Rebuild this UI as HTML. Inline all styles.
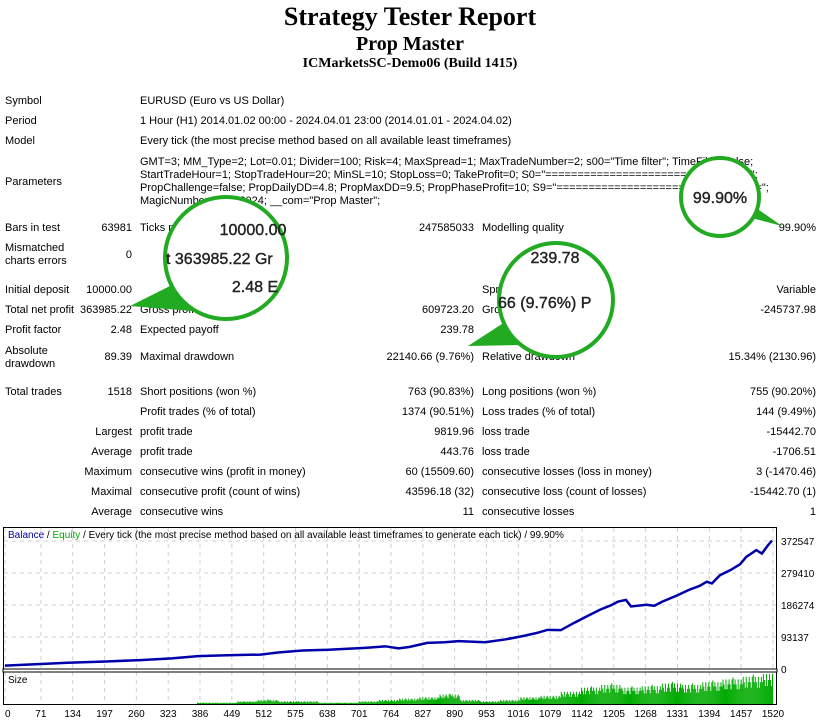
<!DOCTYPE html>
<html><head><meta charset="utf-8">
<style>
body{margin:0;width:820px;height:721px;background:#fff;position:relative;overflow:hidden;font-family:"Liberation Sans",sans-serif;font-size:11px;color:#000}
.t{position:absolute;white-space:nowrap;line-height:13px}
.r{text-align:right}
h1,h2,h3{position:absolute;left:0;width:820px;text-align:center;margin:0;font-family:"Liberation Serif",serif;font-weight:bold;white-space:nowrap}
</style></head><body>
<h1 style="top:2px;font-size:26px">Strategy Tester Report</h1>
<h2 style="top:33px;font-size:20px">Prop Master</h2>
<h3 style="top:56px;font-size:14px">ICMarketsSC-Demo06 (Build 1415)</h3>
<div id="tbl"></div>
<svg id="chart" width="820" height="721" style="position:absolute;left:0;top:0"></svg>
<svg id="mag" width="820" height="721" style="position:absolute;left:0;top:0"></svg>
<script>
const NS="http://www.w3.org/2000/svg";
const rows=[
[101,[[5,"l","Symbol"],[140,"l","EURUSD (Euro vs US Dollar)"]]],
[121,[[5,"l","Period"],[140,"l","1 Hour (H1) 2014.01.02 00:00 - 2024.04.01 23:00 (2014.01.01 - 2024.04.02)"]]],
[141,[[5,"l","Model"],[140,"l","Every tick (the most precise method based on all available least timeframes)"]]],
[182,[[5,"l","Parameters"]]],
[162,[[140,"l","GMT=3; MM_Type=2; Lot=0.01; Divider=100; Risk=4; MaxSpread=1; MaxTradeNumber=2; s00=\"Time filter\"; TimeFilter=false;"]]],
[175,[[140,"l","StartTradeHour=1; StopTradeHour=20; MinSL=10; StopLoss=0; TakeProfit=0; S0=\"================================\";"]]],
[188,[[140,"l","PropChallenge=false; PropDailyDD=4.8; PropMaxDD=9.5; PropPhaseProfit=10; S9=\"================================\";"]]],
[201,[[140,"l","MagicNumber=20032024; __com=\"Prop Master\";"]]],
[228,[[5,"l","Bars in test"],[132,"r","63981"],[140,"l","Ticks modelled"],[474,"r","247585033"],[482,"l","Modelling quality"],[816,"r","99.90%"]]],
[248,[[5,"l","Mismatched"]]],
[261,[[5,"l","charts errors"]]],
[255,[[132,"r","0"]]],
[290,[[5,"l","Initial deposit"],[132,"r","10000.00"],[482,"l","Spread"],[816,"r","Variable"]]],
[310,[[5,"l","Total net profit"],[132,"r","363985.22"],[140,"l","Gross profit"],[474,"r","609723.20"],[482,"l","Gross loss"],[816,"r","-245737.98"]]],
[330,[[5,"l","Profit factor"],[132,"r","2.48"],[140,"l","Expected payoff"],[474,"r","239.78"]]],
[351,[[5,"l","Absolute"]]],
[364,[[5,"l","drawdown"]]],
[357,[[132,"r","89.39"],[140,"l","Maximal drawdown"],[474,"r","22140.66 (9.76%)"],[482,"l","Relative drawdown"],[816,"r","15.34% (2130.96)"]]],
[392,[[5,"l","Total trades"],[132,"r","1518"],[140,"l","Short positions (won %)"],[474,"r","763 (90.83%)"],[482,"l","Long positions (won %)"],[816,"r","755 (90.20%)"]]],
[412,[[140,"l","Profit trades (% of total)"],[474,"r","1374 (90.51%)"],[482,"l","Loss trades (% of total)"],[816,"r","144 (9.49%)"]]],
[432,[[132,"r","Largest"],[140,"l","profit trade"],[474,"r","9819.96"],[482,"l","loss trade"],[816,"r","-15442.70"]]],
[452,[[132,"r","Average"],[140,"l","profit trade"],[474,"r","443.76"],[482,"l","loss trade"],[816,"r","-1706.51"]]],
[472,[[132,"r","Maximum"],[140,"l","consecutive wins (profit in money)"],[474,"r","60 (15509.60)"],[482,"l","consecutive losses (loss in money)"],[816,"r","3 (-1470.46)"]]],
[492,[[132,"r","Maximal"],[140,"l","consecutive profit (count of wins)"],[474,"r","43596.18 (32)"],[482,"l","consecutive loss (count of losses)"],[816,"r","-15442.70 (1)"]]],
[512,[[132,"r","Average"],[140,"l","consecutive wins"],[474,"r","11"],[482,"l","consecutive losses"],[816,"r","1"]]]
];
const tbl=document.getElementById('tbl');
rows.forEach(([y,cells])=>cells.forEach(([x,a,txt])=>{
  const d=document.createElement('div');
  
  
  d.className='t'+(a==='r'?' r':'');
  d.textContent=txt;
  d.style.top=(y-6)+'px';
  if(a==='r'){d.style.right=(820-x)+'px';}else{d.style.left=x+'px';}
  tbl.appendChild(d);
}));

// ---- chart data ----
const balTrades=[0,60,124,200,268,330,382,440,506,540,589,640,712,753,779,800,836,870,898,950,990,1022,1050,1074,1100,1126,1150,1177,1200,1213,1229,1239,1270,1285,1301,1330,1353,1375,1389,1399,1415,1436,1455,1467,1487,1498,1510,1518];
const balValues=[10000,14000,18300,22000,26000,31000,37500,40000,42000,48000,54000,56000,61600,66000,60000,64000,76000,78000,81000,78000,86000,95000,104000,114000,113000,134000,152000,172000,186000,196000,201000,182000,187000,184000,196000,214000,230000,242000,254000,249000,273000,288000,305000,326000,346000,336000,360000,374000];
const yTicks=[0,93137,186274,279410,372547];
const xTicks=[0,71,134,197,260,323,386,449,512,575,638,701,764,827,890,953,1016,1079,1142,1205,1268,1331,1394,1457,1520];
const sizeBucketStart=[380,420,460,500,540,580,620,660,700,740,780,820,860,900,940,980,1020,1060,1100,1140,1180,1220,1260,1300,1340,1380,1420,1460,1500];
const sizeValues=[1,1,2,3,2,2,1,1,2,3,4,5,7,3,2,3,5,6,9,12,14,12,13,15,14,16,18,20,22];
const sizePeaks=[0,0,0,1,0,0,0,0,0,0,0,0,1,0,0,0,0,0,0,1,1,1,1,1,1,1,1,1,1];

const svg=document.getElementById('chart');
function el(tag,at,parent){const e=document.createElementNS(NS,tag);for(const k in at)e.setAttribute(k,at[k]);(parent||svg).appendChild(e);return e;}
const X=t=>5+t*(768/1520);
const Y=v=>669-v*(128/372547);
const SB=704, SY=v=>SB-v*(30/22);

const frame=el('rect',{x:3.5,y:527.5,width:773,height:177,fill:'#fff',stroke:'#000'});


xTicks.forEach(t=>{
  const g=el('line',{x1:X(t),x2:X(t),y1:528,y2:704,stroke:'#d0d0d0','stroke-dasharray':'4,4'});
  
  
  const tx=el('text',{x:X(t),y:717,'text-anchor':t===0?'start':'middle','font-size':10,'font-family':'Liberation Sans'});
  
  
  tx.textContent=t;
});
yTicks.forEach(v=>{
  if(v>0){const g=el('line',{x1:4,x2:776,y1:Y(v),y2:Y(v),stroke:'#d0d0d0','stroke-dasharray':'4,4'});
  
  }
  const tx=el('text',{x:781,y:Y(v)+4,'font-size':10,'font-family':'Liberation Sans'});
  
  
  tx.textContent=v;
});
const sep=el('rect',{x:3,y:669,width:774,height:3,fill:'#fff',stroke:'#000','stroke-width':1});


sizeBucketStart.forEach((s,i)=>{
  for(let k=0;k<40;k+=2){
    const t=s+k; if(t>1518)break;
    const h=sizeValues[i]*(k%6===0?1:(k%4===0?0.6:0.8))*(sizePeaks[i]&&k===20?1.8:1);
    const b=el('rect',{x:X(t),y:SY(h),width:1,height:SB-SY(h),fill:'#00aa00'});
    
    
  }
});
const sl=el('text',{x:8,y:683,'font-size':10,'font-family':'Liberation Sans'});


sl.textContent='Size';
const pl=el('polyline',{points:balTrades.map((t,i)=>X(t)+','+Y(balValues[i])).join(' '),fill:'none',stroke:'#0000aa','stroke-width':2.5});


const hd=el('text',{x:8,y:538,'font-size':10,'font-family':'Liberation Sans'});


hd.innerHTML='<tspan fill="#0000aa">Balance</tspan> / <tspan fill="#00aa00">Equity</tspan> / Every tick (the most precise method based on all available least timeframes to generate each tick) / 99.90%';

const mag=document.getElementById('mag');
function m(tag,at){return el(tag,at,mag);}
function lens(cx,cy,r,tip,base,texts,name){
  const p=m('polygon',{points:`${base[0]},${base[1]} ${base[2]},${base[3]} ${tip[0]},${tip[1]}`,fill:'#22aa22'});
  
  
  const c=m('circle',{cx,cy,r,fill:'#fff',stroke:'#22aa22','stroke-width':4});
  
  
  texts.forEach(([x,y,s,a])=>{
    const t=m('text',{x,y,'font-size':16,'font-family':'Liberation Sans','text-anchor':a||'start','fill':'#222','stroke':'#222','stroke-width':0.4});
    
    
    t.textContent=s;
  });
}
lens(226,258,61,[130,306],[178,282,205,312],[[253,235,'10000.00','middle'],[166,264,'t  363985.22  Gr'],[255,292,'2.48  E','middle']],'magnifier-1');
lens(556,300,57,[468,346],[505,322,520,345],[[555,263,'239.78','middle'],[498,308,'66 (9.76%)  P']],'magnifier-2');
lens(720,197,39,[782,226],[740,215,752,205],[[720,203,'99.90%','middle']],'magnifier-3');
</script>
</body></html>
